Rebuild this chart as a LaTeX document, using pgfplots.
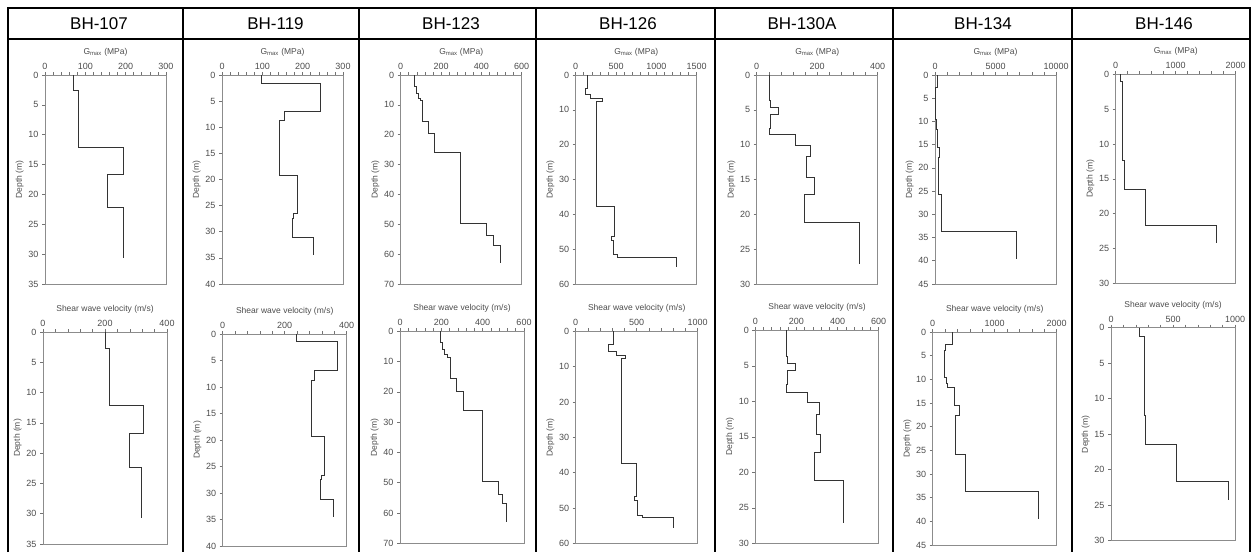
\documentclass[border=0pt]{standalone}
\usepackage{pgfplots}
\pgfplotsset{compat=1.18}
\usepackage{fontspec}
\setmainfont{Liberation Sans}
\pgfplotsset{
 prof/.style={
  scale only axis, anchor=north west,
  y dir=reverse, ymin=0, xmin=0,
  axis line style={black!45, line width=0.8pt},
  every tick/.style={black!55, line width=0.6pt},
  tick align=outside,
  xtick pos=right, xticklabel pos=right,
  ytick pos=left,
  minor x tick num=4,
  major tick length=3pt, minor tick length=3pt,
  /pgf/number format/assume math mode=true,
  /pgf/number format/1000 sep={},
  scaled ticks=false,
  tick label style={font=\fontsize{9}{10}\selectfont, text=black!70},
  label style={font=\fontsize{8.5}{10}\selectfont, text=black!70},
  xticklabel style={yshift=-1pt},
  ylabel={Depth (m)},
  ylabel style={yshift=-2pt},
 },
 gtop/.style={prof, width=121pt, height=209pt, xlabel={G\textsubscript{max} (MPa)}},
 vbot/.style={prof, width=124pt, height=212pt, xlabel={Shear wave velocity (m/s)}},
 pl/.style={black!80, line width=0.9pt, mark=none},
}
\begin{document}
\begin{tikzpicture}
\useasboundingbox (0pt,0pt) rectangle (1252pt,-552pt);
% frame
\draw[line width=1.2pt] (8pt,-552pt) -- (8pt,-8pt) -- (1250pt,-8pt) -- (1250pt,-552pt);
\draw[line width=1.2pt] (8pt,-39pt) -- (1250pt,-39pt);
\foreach \xx in {183,359,536,715,893,1072} {\draw[line width=1.2pt] (\xx pt,-8pt) -- (\xx pt,-552pt);}
\foreach \xx/\tt in {99/BH-107,275.5/BH-119,451/BH-123,628/BH-126,802/BH-130A,983/BH-134,1164/BH-146}
 {\node[font=\fontsize{17}{19}\selectfont] at (\xx pt,-24pt) {\tt};}

% ---------- BH-107 ----------
\begin{axis}[gtop, at={(45pt,-75pt)}, xmax=300, xtick distance=100, ymax=35, ytick distance=5]
\addplot[pl] coordinates {(71,0)(71,2.6)(82,2.6)(82,12.2)(195,12.2)(195,16.6)(156,16.6)(156,22.2)(194,22.2)(194,30.6)};
\end{axis}
\begin{axis}[vbot, at={(43pt,-332pt)}, xmax=400, xtick distance=200, ymax=35, ytick distance=5]
\addplot[pl] coordinates {(202,0)(202,2.7)(213,2.7)(213,12.2)(325,12.2)(325,16.8)(280,16.8)(280,22.3)(317,22.3)(317,30.7)};
\end{axis}

% ---------- BH-119 ----------
\begin{axis}[gtop, at={(222pt,-75pt)}, xmax=300, xtick distance=100, ymax=40, ytick distance=5]
\addplot[pl] coordinates {(99,0)(99,1.6)(244,1.6)(244,7.0)(155,7.0)(155,8.7)(143,8.7)(143,19.2)(188,19.2)(188,26.5)(176,26.5)(176,27.4)(174,27.4)(174,31.0)(226,31.0)(226,34.4)};
\end{axis}
\begin{axis}[vbot, at={(222.7pt,-334pt)}, xmax=400, xtick distance=200, ymax=40, ytick distance=5]
\addplot[pl] coordinates {(237,0)(237,1.4)(370,1.4)(370,6.9)(296,6.9)(296,8.7)(287,8.7)(287,19.3)(327,19.3)(327,26.6)(319,26.6)(319,27.5)(316,27.5)(316,31.2)(357,31.2)(357,34.6)};
\end{axis}

% ---------- BH-123 ----------
\begin{axis}[gtop, at={(400.7pt,-75pt)}, xmax=600, xtick distance=200, ymax=70, ytick distance=10]
\addplot[pl] coordinates {(66,0)(66,3.7)(76,3.7)(76,6.2)(89,6.2)(89,7.8)(99,7.8)(99,8.4)(109,8.4)(109,15.7)(137,15.7)(137,19.6)(165,19.6)(165,25.8)(294,25.8)(294,49.7)(423,49.7)(423,53.6)(460,53.6)(460,57.0)(493,57.0)(493,63.0)};
\end{axis}
\begin{axis}[vbot, at={(400pt,-331.3pt)}, xmax=600, xtick distance=200, ymax=70, ytick distance=10]
\addplot[pl] coordinates {(194,0)(194,3.7)(205,3.7)(205,5.9)(216,5.9)(216,7.8)(229,7.8)(229,8.6)(245,8.6)(245,15.7)(274,15.7)(274,19.7)(306,19.7)(306,26.0)(400,26.0)(400,49.7)(477,49.7)(477,53.8)(497,53.8)(497,56.8)(516,56.8)(516,62.8)};
\end{axis}

% ---------- BH-126 ----------
\begin{axis}[gtop, at={(575.7pt,-75pt)}, xmax=1500, xtick distance=500, ymax=60, ytick distance=10]
\addplot[pl] coordinates {(142,0)(142,3.8)(121,3.8)(121,5.7)(188,5.7)(188,6.7)(326,6.7)(326,7.6)(255,7.6)(255,37.6)(481,37.6)(481,46.4)(439,46.4)(439,47.6)(464,47.6)(464,51.4)(515,51.4)(515,52.4)(1247,52.4)(1247,55.2)};
\end{axis}
\begin{axis}[vbot, at={(575.7pt,-331.3pt)}, width=122pt, xmax=1000, xtick distance=500, ymax=60, ytick distance=10]
\addplot[pl] coordinates {(309,0)(309,3.6)(270,3.6)(270,5.8)(336,5.8)(336,6.7)(404,6.7)(404,7.6)(372,7.6)(372,37.5)(500,37.5)(500,46.8)(478,46.8)(478,47.9)(505,47.9)(505,52.0)(549,52.0)(549,52.7)(801,52.7)(801,55.8)};
\end{axis}

% ---------- BH-130A ----------
\begin{axis}[gtop, at={(756.7pt,-75pt)}, xmax=400, xtick distance=200, ymax=30, ytick distance=5]
\addplot[pl] coordinates {(41,0)(41,3.6)(44,3.6)(44,4.7)(72,4.7)(72,5.7)(45,5.7)(45,7.7)(41,7.7)(41,8.6)(127,8.6)(127,10.1)(179,10.1)(179,11.7)(166,11.7)(166,14.7)(192,14.7)(192,17.2)(158,17.2)(158,21.2)(340,21.2)(340,27.2)};
\end{axis}
\begin{axis}[vbot, at={(755.3pt,-330.3pt)}, width=123.4pt, height=213pt, xmax=600, xtick distance=200, ymax=30, ytick distance=5]
\addplot[pl] coordinates {(151,0)(151,3.7)(156,3.7)(156,4.7)(193,4.7)(193,5.7)(156,5.7)(156,7.6)(151,7.6)(151,8.7)(254,8.7)(254,10.1)(310,10.1)(310,11.8)(298,11.8)(298,14.7)(318,14.7)(318,17.2)(287,17.2)(287,21.2)(428,21.2)(428,27.1)};
\end{axis}

% ---------- BH-134 ----------
\begin{axis}[gtop, at={(935pt,-75pt)}, xmax=10000, xtick distance=5000, ymax=45, ytick distance=5]
\addplot[pl] coordinates {(190,0)(190,2.7)(75,2.7)(75,3.8)(61,3.8)(61,9.6)(85,9.6)(85,10.8)(107,10.8)(107,11.7)(224,11.7)(224,15.6)(340,15.6)(340,17.7)(245,17.7)(245,25.8)(560,25.8)(560,33.7)(6700,33.7)(6700,39.6)};
\end{axis}
\begin{axis}[vbot, at={(932.7pt,-332pt)}, height=213pt, xmax=2000, xtick distance=1000, ymax=45, ytick distance=5]
\addplot[pl] coordinates {(321,0)(321,2.7)(203,2.7)(203,3.8)(182,3.8)(182,9.6)(214,9.6)(214,10.8)(240,10.8)(240,11.7)(348,11.7)(348,15.6)(428,15.6)(428,17.7)(364,17.7)(364,25.8)(535,25.8)(535,33.7)(1711,33.7)(1711,39.6)};
\end{axis}

% ---------- BH-146 ----------
\begin{axis}[gtop, at={(1115.7pt,-74.3pt)}, width=120pt, xmax=2000, xtick distance=1000, ymax=30, ytick distance=5]
\addplot[pl] coordinates {(83,0)(83,1.0)(117,1.0)(117,12.3)(139,12.3)(139,16.5)(500,16.5)(500,21.7)(1672,21.7)(1672,24.2)};
\end{axis}
\begin{axis}[vbot, at={(1111pt,-327.7pt)}, height=213pt, xmax=1000, xtick distance=500, ymax=30, ytick distance=5]
\addplot[pl] coordinates {(228,0)(228,1.2)(268,1.2)(268,12.4)(279,12.4)(279,16.4)(528,16.4)(528,21.7)(944,21.7)(944,24.3)};
\end{axis}
\end{tikzpicture}
\end{document}
